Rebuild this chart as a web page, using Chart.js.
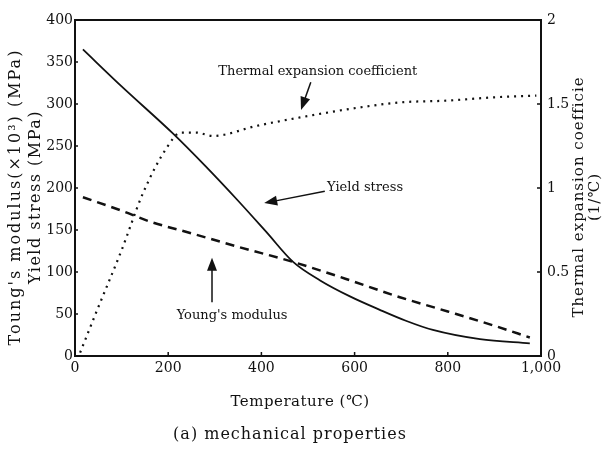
<!DOCTYPE html>
<html>
<head>
<meta charset="utf-8">
<script src="https://cdn.jsdelivr.net/npm/chart.js@4.4.0/dist/chart.umd.min.js"></script>
<style>
  html, body { margin: 0; padding: 0; background: #fff; }
  #wrap { width: 606px; height: 456px; }
</style>
</head>
<body>
<div id="wrap"><canvas id="chart" width="606" height="456"></canvas></div>
<script>
// Values (temperature in deg C)
const YIELD_T = [17, 100, 210, 280, 348, 410, 468, 526, 590, 654, 710, 768, 869, 976];
const YIELD_MPA = [365, 321, 265, 226, 186, 148, 112, 90, 71, 55, 42, 31, 20, 15];

const YOUNG_T = [17, 100, 161, 250, 350, 468, 580, 697, 800, 900, 976];
const YOUNG_MPA = [189, 173, 160, 146, 130, 112, 92, 70, 53, 36, 22];

const THERMAL_T = [11, 47, 100, 146, 197, 227, 260, 296, 390, 483, 612, 700, 798, 900, 990];
const THERMAL_COEF = [0.02, 0.27, 0.63, 0.97, 1.24, 1.33, 1.33, 1.31, 1.37, 1.42, 1.48, 1.51, 1.52, 1.54, 1.55];

const X_TICKS = [0, 200, 400, 600, 800, 1000];
const X_TICK_LABELS = ['0', '200', '400', '600', '800', '1,000'];
const LEFT_TICKS = [0, 50, 100, 150, 200, 250, 300, 350, 400];
const RIGHT_TICKS = [0, 0.5, 1, 1.5, 2];
const RIGHT_TICK_LABELS = ['0', '0.5', '1', '1.5', '2'];

const FONT = '"DejaVu Serif", serif';
const INK = '#111';

const toPoints = (xs, ys) => xs.map((x, i) => ({ x: x, y: ys[i] }));

// callout labels, anchored in data units (temperature, MPa on the left axis)
const CALLOUTS = [
  { text: 'Thermal expansion coefficient', t: 521, v: 338, align: 'center', arrow: [506, 326, 485, 293] },
  { text: 'Yield stress', t: 541, v: 200, align: 'left', arrow: [536, 196, 406, 182] },
  { text: "Young's modulus", t: 337, v: 48, align: 'center', arrow: [294, 64, 294, 117] }
];

function drawArrow(ctx, x1, y1, x2, y2) {
  const a = Math.atan2(y2 - y1, x2 - x1);
  const len = 13, w = 5;
  ctx.beginPath();
  ctx.moveTo(x1, y1);
  ctx.lineTo(x2 - Math.cos(a) * len * 0.7, y2 - Math.sin(a) * len * 0.7);
  ctx.stroke();
  ctx.beginPath();
  ctx.moveTo(x2, y2);
  ctx.lineTo(x2 - len * Math.cos(a) + w * Math.sin(a), y2 - len * Math.sin(a) - w * Math.cos(a));
  ctx.lineTo(x2 - len * Math.cos(a) - w * Math.sin(a), y2 - len * Math.sin(a) + w * Math.cos(a));
  ctx.closePath();
  ctx.fill();
}

function rotatedLine(ctx, text, x, y) {
  ctx.save();
  ctx.translate(x, y);
  ctx.rotate(-Math.PI / 2);
  ctx.fillText(text, 0, 0);
  ctx.restore();
}

// frame, inward tick marks, titles and callouts
const decorations = {
  id: 'decorations',
  afterDraw(chart) {
    const { ctx, chartArea: ca, scales } = chart;
    ctx.save();
    ctx.strokeStyle = INK;
    ctx.fillStyle = INK;

    ctx.lineWidth = 2;
    ctx.strokeRect(ca.left, ca.top, ca.right - ca.left, ca.bottom - ca.top);

    ctx.lineWidth = 1.5;
    ctx.beginPath();
    LEFT_TICKS.forEach(v => {
      const y = scales.y.getPixelForValue(v);
      ctx.moveTo(ca.left, y); ctx.lineTo(ca.left + 3, y);
    });
    RIGHT_TICKS.forEach(v => {
      const y = scales.y1.getPixelForValue(v);
      ctx.moveTo(ca.right, y); ctx.lineTo(ca.right - 4, y);
    });
    X_TICKS.forEach(v => {
      const x = scales.x.getPixelForValue(v);
      ctx.moveTo(x, ca.bottom); ctx.lineTo(x, ca.bottom - 4);
    });
    ctx.stroke();

    ctx.textBaseline = 'middle';
    ctx.textAlign = 'center';

    // left axis title (two lines)
    ctx.font = '16px ' + FONT;
    ctx.letterSpacing = '2px';
    rotatedLine(ctx, 'Toung\'s modulus(\u00d710\u00b3) (MPa)', 16, 197);
    ctx.letterSpacing = '1.5px';
    rotatedLine(ctx, 'Yield stress (MPa)', 36, 197);

    // right axis title
    ctx.font = '15px ' + FONT;
    ctx.letterSpacing = '1px';
    rotatedLine(ctx, 'Thermal expansion coefficie', 579, 197);
    rotatedLine(ctx, '(1/\u2103)', 595, 197);

    // x axis title and caption
    ctx.font = '15px ' + FONT;
    ctx.letterSpacing = '0.5px';
    ctx.fillText('Temperature (\u2103)', 300, 402);
    ctx.font = '16px ' + FONT;
    ctx.letterSpacing = '1px';
    ctx.fillText('(a) mechanical properties', 290, 435);

    // callouts
    ctx.letterSpacing = '0px';
    ctx.font = '13px ' + FONT;
    ctx.lineWidth = 1.5;
    CALLOUTS.forEach(c => {
      const px = t => scales.x.getPixelForValue(t);
      const py = v => scales.y.getPixelForValue(v);
      ctx.textAlign = c.align;
      ctx.fillText(c.text, px(c.t), py(c.v));
      drawArrow(ctx, px(c.arrow[0]), py(c.arrow[1]), px(c.arrow[2]), py(c.arrow[3]));
    });
    ctx.restore();
  }
};

const tickFont = { family: FONT, size: 14 };

new Chart(document.getElementById('chart'), {
  type: 'line',
  data: {
    datasets: [
      {
        label: 'Yield stress',
        data: toPoints(YIELD_T, YIELD_MPA),
        yAxisID: 'y',
        borderColor: INK,
        borderWidth: 1.8,
        cubicInterpolationMode: 'monotone',
        pointRadius: 0
      },
      {
        label: "Young's modulus",
        data: toPoints(YOUNG_T, YOUNG_MPA),
        yAxisID: 'y',
        borderColor: INK,
        borderWidth: 2.5,
        borderDash: [9, 6],
        cubicInterpolationMode: 'monotone',
        pointRadius: 0
      },
      {
        label: 'Thermal expansion coefficient',
        data: toPoints(THERMAL_T, THERMAL_COEF),
        yAxisID: 'y1',
        borderColor: INK,
        borderWidth: 2.2,
        borderDash: [2, 5],
        cubicInterpolationMode: 'monotone',
        pointRadius: 0
      }
    ]
  },
  options: {
    responsive: false,
    animation: false,
    layout: { padding: { top: 20, left: 0, right: 0, bottom: 0 } },
    plugins: {
      legend: { display: false },
      tooltip: { enabled: false }
    },
    scales: {
      x: {
        type: 'linear',
        min: 0,
        max: 1000,
        afterBuildTicks: s => { s.ticks = X_TICKS.map(v => ({ value: v })); },
        afterFit: s => { s.height = 100; },
        grid: { display: false, drawTicks: false },
        border: { display: false },
        ticks: {
          font: tickFont,
          color: INK,
          padding: 4,
          maxRotation: 0,
          callback: v => X_TICK_LABELS[X_TICKS.indexOf(v)]
        }
      },
      y: {
        position: 'left',
        min: 0,
        max: 400,
        afterBuildTicks: s => { s.ticks = LEFT_TICKS.map(v => ({ value: v })); },
        afterFit: s => { s.width = 75; },
        grid: { display: false, drawTicks: false },
        border: { display: false },
        ticks: { font: tickFont, color: INK, padding: 2 }
      },
      y1: {
        position: 'right',
        min: 0,
        max: 2,
        afterBuildTicks: s => { s.ticks = RIGHT_TICKS.map(v => ({ value: v })); },
        afterFit: s => { s.width = 65; },
        grid: { display: false, drawTicks: false },
        border: { display: false },
        ticks: {
          font: tickFont,
          color: INK,
          padding: 6,
          callback: v => RIGHT_TICK_LABELS[RIGHT_TICKS.indexOf(v)]
        }
      }
    }
  },
  plugins: [decorations]
});
</script>
</body>
</html>
